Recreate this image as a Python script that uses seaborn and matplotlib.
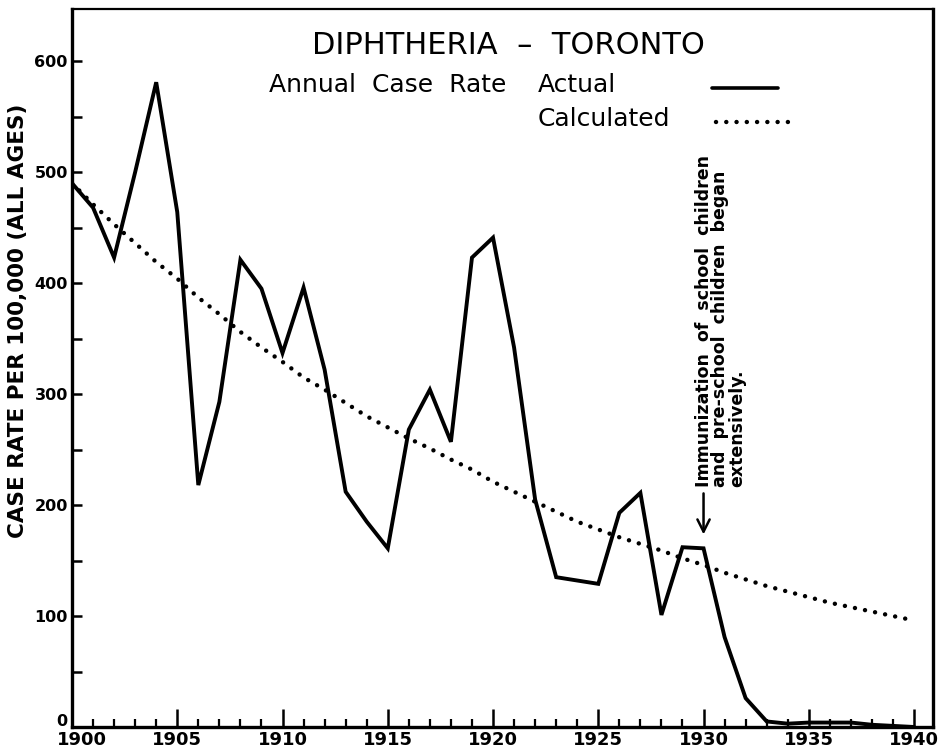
import matplotlib
matplotlib.use("Agg")
import matplotlib.pyplot as plt
import matplotlib.transforms as mtransforms
import seaborn as sns
import pandas as pd
from matplotlib.lines import Line2D
from matplotlib.ticker import MultipleLocator

# ---- data ----
years = list(range(1900, 1941))
actual = [490, 468, 423, 500, 581, 464, 218, 293, 421, 395,
          337, 396, 322, 212, 185, 161, 268, 304, 257, 423,
          441, 342, 205, 135, 132, 129, 193, 211, 101, 162,
          161, 81, 26, 5, 3, 4, 4, 4, 2, 1, 0]
calculated = [490, 471, 453, 436, 419, 404, 387, 372, 356, 342,
              329, 315, 304, 292, 280, 270, 260, 251, 241, 232,
              221, 212, 203, 194, 185, 178, 171, 165, 159, 152,
              146, 139, 133, 127, 122, 117, 112, 108, 104, 100, 96]
y_ticks = [0, 100, 200, 300, 400, 500, 600]
x_ticks = [1900, 1905, 1910, 1915, 1920, 1925, 1930, 1935, 1940]

title_text = "DIPHTHERIA  –  TORONTO"
legend_head = "Annual  Case  Rate"
legend_labels = ["Actual", "Calculated"]
y_label = "CASE RATE PER 100,000 (ALL AGES)"
note_lines = ["Immunization  of  school  children",
              "and  pre-school  children  began",
              "extensively."]

df = pd.DataFrame({"year": years, "actual": actual, "calculated": calculated})

sns.set_style("ticks")
plt.rcParams["font.family"] = ["DejaVu Sans"]
plt.rcParams.update({"text.color": "black", "xtick.color": "black",
                     "ytick.color": "black", "axes.edgecolor": "black"})

W, H = 947, 755
fig = plt.figure(figsize=(W / 100, H / 100), dpi=100)
fx = lambda x: x / W
fy = lambda y: 1 - y / H

L, R, T, B = 72, 933, 9, 727
ax = fig.add_axes([fx(L), fy(B), (R - L) / W, (B - T) / H])

DOT = (0, (0.01, 2.3))
sns.lineplot(data=df, x="year", y="actual", ax=ax, color="black",
             linewidth=2.8, solid_joinstyle="miter")
sns.lineplot(data=df, x="year", y="calculated", ax=ax, color="black",
             linewidth=3.2, linestyle=DOT, dash_capstyle="round")

ax.set_xlim(1900, 1940.9)
ax.set_ylim(0, 647)
ax.set_xlabel("")
ax.set_ylabel("")

ax.set_xticks(x_ticks)
ax.xaxis.set_minor_locator(MultipleLocator(1))
ax.set_xticklabels([str(v) for v in x_ticks], fontsize=13, fontweight="bold")
yt = list(range(0, 601, 50))
ax.set_yticks(yt)
ax.set_yticklabels([str(v) if v in y_ticks else "" for v in yt],
                   fontsize=11.5, fontweight="bold")
ax.tick_params(axis="x", which="major", direction="in", length=13, width=1.8,
               pad=3, bottom=True, top=False)
ax.tick_params(axis="x", which="minor", direction="in", length=6, width=1.6,
               bottom=True, top=False)
ax.tick_params(axis="y", which="major", direction="in", length=7, width=1.8,
               pad=3, left=True, right=False)
for s in ax.spines.values():
    s.set_visible(True)
    s.set_linewidth(2.4)
    s.set_color("black")
ax.spines["top"].set_linewidth(1.6)

# nudge the "1900" and "0" labels apart as in the reference
fig.canvas.draw()
xl0 = ax.get_xticklabels()[0]
xl0.set_transform(xl0.get_transform() +
                  mtransforms.ScaledTranslation(10 / 100, 0, fig.dpi_scale_trans))
yl0 = ax.get_yticklabels()[0]
yl0.set_transform(yl0.get_transform() +
                  mtransforms.ScaledTranslation(0, 7 / 100, fig.dpi_scale_trans))

# y axis label
fig.text(fx(18), fy(321), y_label, rotation=90, ha="center", va="center",
         fontsize=15.5, fontweight="bold")

# title and legend
fig.text(fx(312), fy(46), title_text, ha="left", va="center", fontsize=22)
fig.text(fx(269), fy(85), legend_head, ha="left", va="center", fontsize=18)
fig.text(fx(538), fy(85), legend_labels[0], ha="left", va="center", fontsize=18)
fig.text(fx(538), fy(119), legend_labels[1], ha="left", va="center", fontsize=18)
fig.add_artist(Line2D([fx(712), fx(778)], [fy(88), fy(88)], color="black",
                      linewidth=2.6))
fig.add_artist(Line2D([fx(716), fx(796)], [fy(122), fy(122)], color="black",
                      linewidth=3.2, linestyle=DOT, dash_capstyle="round"))

# annotation
note_x = [1930.0, 1930.8, 1931.6]
for xx, txt in zip(note_x, note_lines):
    ax.text(xx, 216, txt, rotation=90, ha="center", va="bottom",
            fontsize=12.5, fontweight="bold")
ax.annotate("", xy=(1930.0, 171), xytext=(1930.0, 213),
            arrowprops=dict(arrowstyle="->", lw=1.8, color="black",
                            mutation_scale=22))

fig.savefig("out.png", dpi=100)
